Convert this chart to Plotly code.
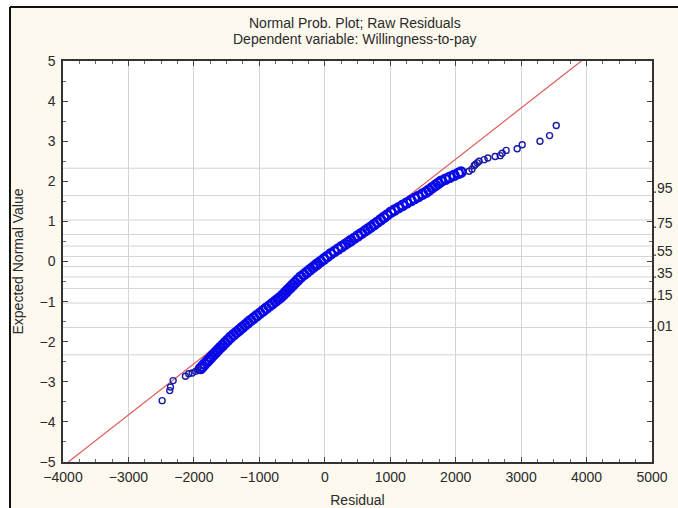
import plotly.graph_objects as go
from statistics import NormalDist

# ---------------- data ----------------
# Residuals (x) and expected normal values (y) of the plotted points
tail_low_res = [-2485, -2369, -2358, -2317, -2129, -2078, -2026, -1975, -1940]
tail_low_z = [-3.47, -3.22, -3.13, -2.97, -2.86, -2.80, -2.78, -2.74, -2.70]

band_z = [-2.67, -2.62, -2.56, -2.50, -2.45, -2.39, -2.33, -2.27, -2.21, -2.15,
          -2.09, -2.03, -1.96, -1.89, -1.83, -1.77, -1.71, -1.65, -1.59, -1.53,
          -1.47, -1.41, -1.35, -1.29, -1.23, -1.17, -1.11, -1.05, -0.99, -0.94,
          -0.89, -0.83, -0.77, -0.71, -0.65, -0.59, -0.53, -0.46, -0.39, -0.33,
          -0.27, -0.21, -0.15, -0.10, -0.06, 0.00, 0.06, 0.12, 0.19, 0.25,
          0.31, 0.37, 0.43, 0.48, 0.52, 0.58, 0.64, 0.70, 0.76, 0.81,
          0.86, 0.92, 0.98, 1.04, 1.10, 1.16, 1.23, 1.28, 1.34, 1.40,
          1.46, 1.52, 1.57, 1.62, 1.68, 1.73, 1.78, 1.84, 1.90, 1.95,
          2.00, 2.05, 2.10, 2.15, 2.20, 2.23]
band_res = [-1899, -1870, -1835, -1800, -1772, -1738, -1704, -1669, -1633, -1597,
            -1561, -1525, -1482, -1440, -1396, -1352, -1308, -1264, -1221, -1177,
            -1133, -1086, -1038, -991, -943, -896, -848, -801, -753, -714,
            -674, -637, -600, -564, -527, -490, -454, -411, -368, -321,
            -275, -228, -182, -143, -112, -63, -14, 35, 92, 148,
            203, 259, 315, 361, 398, 452, 506, 560, 614, 659,
            704, 754, 804, 853, 903, 953, 1011, 1064, 1127, 1190,
            1254, 1317, 1372, 1428, 1494, 1550, 1592, 1642, 1692, 1734,
            1776, 1843, 1909, 1976, 2043, 2083]

tail_high_res = [2205, 2250, 2282, 2300, 2330, 2358, 2435, 2492, 2603, 2680,
                 2711, 2772, 2940, 3017, 3288, 3435, 3537]
tail_high_z = [2.25, 2.30, 2.39, 2.42, 2.46, 2.50, 2.54, 2.58, 2.62, 2.64,
               2.70, 2.77, 2.81, 2.91, 3.00, 3.14, 3.39]

# Reference (fitted normal) line
ref_line_res = [-3920, 3920]
ref_line_z = [-5, 5]

# Probability grid levels and right-axis labels
prob_grid = [0.01, 0.05, 0.15, 0.25, 0.35, 0.45, 0.55, 0.65, 0.75, 0.85, 0.95, 0.99]
prob_labels = [".95", ".75", ".55", ".35", ".15", ".01"]
prob_label_pos = [1.82, 0.97, 0.25, -0.30, -0.85, -1.62]

x_ticks = [-4000, -3000, -2000, -1000, 0, 1000, 2000, 3000, 4000, 5000]
y_ticks = [-5, -4, -3, -2, -1, 0, 1, 2, 3, 4, 5]

title_lines = ["Normal Prob. Plot; Raw Residuals", "Dependent variable: Willingness-to-pay"]

# ---------------- figure ----------------
W, H = 678, 508
ML, MR, MT, MB = 63, 26, 61, 46
PW, PH = W - ML - MR, H - MT - MB

def px_to_paper_x(px):
    return (px - ML) / PW

def px_to_paper_y(py):
    return 1 + (MT - py) / PH

FONT = "Liberation Sans, Arial, sans-serif"
TXT = "#2b2b2b"
GRID = "#d4d4d4"
CREAM = "#fdf9ef"
BLUE = "#0808e8"
FS = 14

fig = go.Figure()

fig.add_trace(go.Scatter(
    x=ref_line_res, y=ref_line_z, mode="lines",
    line=dict(color="#e05a5a", width=1.2), hoverinfo="skip", showlegend=False))

# dense central band (many overlapping points)
fig.add_trace(go.Scatter(
    x=band_res, y=band_z, mode="markers",
    marker=dict(symbol="circle-open", size=9, color=BLUE,
                line=dict(width=2.6, color=BLUE)),
    showlegend=False))

# sparse tails
fig.add_trace(go.Scatter(
    x=tail_low_res + tail_high_res, y=tail_low_z + tail_high_z, mode="markers",
    marker=dict(symbol="circle-open", size=6, color="#1a1aa8",
                line=dict(width=1.4, color="#1a1aa8")),
    showlegend=False))

# invisible trace on secondary axis to show right labels
fig.add_trace(go.Scatter(x=[None], y=[None], yaxis="y2", showlegend=False))

shapes = []
nd = NormalDist()
for p in prob_grid:
    z = nd.inv_cdf(p)
    shapes.append(dict(type="line", xref="paper", yref="y", x0=0, x1=1, y0=z, y1=z,
                       line=dict(color=GRID, width=1), layer="below"))

# outer window frame: white outside, black border
shapes.append(dict(type="rect", xref="paper", yref="paper",
                   x0=px_to_paper_x(-5), x1=px_to_paper_x(10),
                   y0=px_to_paper_y(H + 5), y1=px_to_paper_y(-5),
                   fillcolor="white", line=dict(width=0), layer="below"))
shapes.append(dict(type="rect", xref="paper", yref="paper",
                   x0=px_to_paper_x(-5), x1=px_to_paper_x(W + 5),
                   y0=px_to_paper_y(7), y1=px_to_paper_y(-5),
                   fillcolor="white", line=dict(width=0), layer="below"))
shapes.append(dict(type="line", xref="paper", yref="paper",
                   x0=px_to_paper_x(10), x1=px_to_paper_x(W + 5),
                   y0=px_to_paper_y(7), y1=px_to_paper_y(7),
                   line=dict(color="#111111", width=2), layer="below"))
shapes.append(dict(type="line", xref="paper", yref="paper",
                   x0=px_to_paper_x(10), x1=px_to_paper_x(10),
                   y0=px_to_paper_y(7), y1=px_to_paper_y(H + 5),
                   line=dict(color="#111111", width=2), layer="below"))

annotations = [
    dict(text=title_lines[0], xref="paper", yref="paper",
         x=px_to_paper_x(355), y=px_to_paper_y(23), xanchor="center", yanchor="middle",
         showarrow=False, font=dict(family=FONT, size=FS, color=TXT)),
    dict(text=title_lines[1], xref="paper", yref="paper",
         x=px_to_paper_x(355), y=px_to_paper_y(39), xanchor="center", yanchor="middle",
         showarrow=False, font=dict(family=FONT, size=FS, color=TXT)),
]

fig.update_layout(
    width=W, height=H,
    margin=dict(l=ML, r=MR, t=MT, b=MB, autoexpand=False),
    paper_bgcolor=CREAM, plot_bgcolor="white",
    font=dict(family=FONT, size=FS, color=TXT),
    shapes=shapes, annotations=annotations,
    xaxis=dict(range=[-4000, 5000], tickvals=x_ticks,
               ticks="inside", ticklen=5, tickcolor="#444", tickwidth=1,
               minor=dict(dtick=250, ticks="inside", ticklen=3, tickcolor="#666", showgrid=False),
               showgrid=True, gridcolor=GRID, gridwidth=1, zeroline=False,
               showline=True, linecolor="#333", linewidth=1.5, mirror="ticks",
               tickfont=dict(size=FS, color=TXT), ticklabelstandoff=1,
               title=dict(text="Residual", standoff=13, font=dict(size=FS, color=TXT))),
    yaxis=dict(range=[-5, 5], tickvals=y_ticks,
               ticks="inside", ticklen=5, tickcolor="#444", tickwidth=1,
               minor=dict(dtick=0.5, ticks="inside", ticklen=3, tickcolor="#666", showgrid=False),
               showgrid=False, zeroline=False,
               showline=True, linecolor="#333", linewidth=1.5, mirror="ticks",
               tickfont=dict(size=FS, color=TXT), ticklabelstandoff=3,
               title=dict(text="Expected Normal Value", standoff=13, font=dict(size=FS, color=TXT))),
    yaxis2=dict(range=[-5, 5], overlaying="y", side="right",
                tickvals=prob_label_pos, ticktext=prob_labels,
                ticks="", showgrid=False, zeroline=False, showline=False,
                tickfont=dict(size=FS, color=TXT)),
)

fig.write_html("out.html")
